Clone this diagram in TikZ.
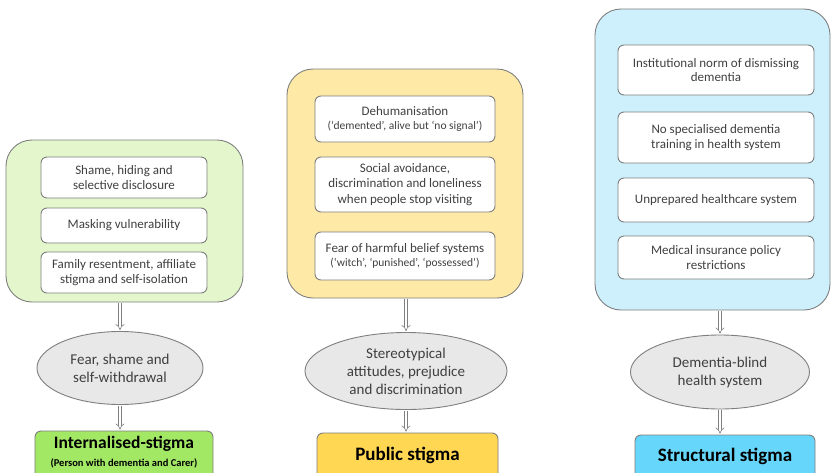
\documentclass[tikz,border=0pt]{standalone}
\usepackage{fontspec}
\setmainfont{Carlito}
\usetikzlibrary{shapes.geometric,arrows.meta}
\definecolor{edge}{HTML}{7F7F7F}
\definecolor{txt}{HTML}{404040}
\definecolor{gpanel}{HTML}{E4F7CC}
\definecolor{ypanel}{HTML}{FFE9A6}
\definecolor{bpanel}{HTML}{CDF0FC}
\definecolor{gbox}{HTML}{A2E865}
\definecolor{ybox}{HTML}{FFD752}
\definecolor{bbox}{HTML}{66D6FA}
\definecolor{ellfill}{HTML}{E8E8E8}
\tikzset{
  panel/.style={draw=edge, line width=0.9pt, rounded corners=26pt, inner sep=0pt},
  item/.style={draw=edge, line width=0.9pt, fill=white, rounded corners=6pt, align=center,
    text=txt, font=\fontsize{13}{14.5}\selectfont, inner sep=0pt},
  ell/.style={ellipse, draw=edge, line width=0.9pt, fill=ellfill, align=center, text=txt,
    font=\fontsize{15}{18}\selectfont, inner sep=0pt},
  result/.style={draw=edge, line width=0.9pt, rounded corners=6pt, align=center, inner sep=0pt},
  arr/.style={draw=edge, double=white, double distance=2.6pt, line width=0.6pt, -{Implies}, shorten >=1pt, shorten <=1pt},
  small/.style={font=\fontsize{11.5}{13}\selectfont},
}
\begin{document}
\begin{tikzpicture}[x=1pt,y=-1pt]
\clip (0,0) rectangle (831,472);
\fill[white] (0,0) rectangle (831,472);
% left column
\node[panel, fill=gpanel, minimum width=237, minimum height=162] (lp) at (124.5,221) {};
\node[item, minimum width=166, minimum height=41] (l1) at (124,177.5) {Shame, hiding and\\selective disclosure};
\node[item, minimum width=166, minimum height=35] (l2) at (124,225.5) {Masking vulnerability};
\node[item, minimum width=166, minimum height=41] (l3) at (124,272.5) {Family resentment, affiliate\\stigma and self-isolation};
\node[ell, minimum width=166, minimum height=73] (le) at (120,368) {Fear, shame and\\self-withdrawal};
\node[result, fill=gbox, minimum width=178, minimum height=52] (lr) at (124,457) {};
\node[font=\bfseries\fontsize{17.5}{20}\selectfont] (lrt) at (124,443.5) {Internalised-stigma};
\node[font=\bfseries\fontsize{10.5}{12}\selectfont] (lrs) at (124,463) {(Person with dementia and Carer)};
\draw[arr] (le.north |- lp.south) -- (le.north);
\draw[arr] (le.south) -- (le.south |- lr.north);
% middle column
\node[panel, fill=ypanel, minimum width=236, minimum height=229] (mp) at (405,183.5) {};
\node[item, minimum width=180, minimum height=46] (m1) at (405,119) {Dehumanisation\\{\fontsize{11.5}{15}\selectfont (‘demented’, alive but ‘no signal’)}};
\node[item, minimum width=180, minimum height=55, font=\fontsize{13}{15.5}\selectfont] (m2) at (405,184.5) {Social avoidance,\\discrimination and loneliness\\when people stop visiting};
\node[item, minimum width=180, minimum height=48] (m3) at (405,256) {Fear of harmful belief systems\\{\fontsize{11.5}{15}\selectfont (‘witch’, ‘punished’, ‘possessed’)}};
\node[ell, minimum width=202, minimum height=77] (me) at (406,371) {Stereotypical\\attitudes, prejudice\\and discrimination};
\node[result, fill=ybox, minimum width=181, minimum height=52] (mr) at (407.5,459) {};
\node[font=\bfseries\fontsize{19}{20}\selectfont] (mrt) at (407.5,455) {Public stigma};
\draw[arr] (me.north |- mp.south) -- (me.north);
\draw[arr] (me.south) -- (me.south |- mr.north);
% right column
\node[panel, fill=bpanel, minimum width=235, minimum height=301] (rp) at (712.5,159.5) {};
\node[item, minimum width=196, minimum height=50] (r1) at (716,70) {Institutional norm of dismissing\\dementia};
\node[item, minimum width=196, minimum height=51] (r2) at (716,137.5) {No specialised dementia\\training in health system};
\node[item, minimum width=196, minimum height=44] (r3) at (716,200) {Unprepared healthcare system};
\node[item, minimum width=196, minimum height=43] (r4) at (716,257.5) {Medical insurance policy\\restrictions};
\node[ell, minimum width=179, minimum height=74] (re) at (720,372) {Dementia-blind\\health system};
\node[result, fill=bbox, minimum width=180, minimum height=52] (rr) at (725,461) {};
\node[font=\bfseries\fontsize{19}{20}\selectfont] (rrt) at (725,456) {Structural stigma};
\draw[arr] (re.north |- rp.south) -- (re.north);
\draw[arr] (re.south) -- (re.south |- rr.north);
\end{tikzpicture}
\end{document}
